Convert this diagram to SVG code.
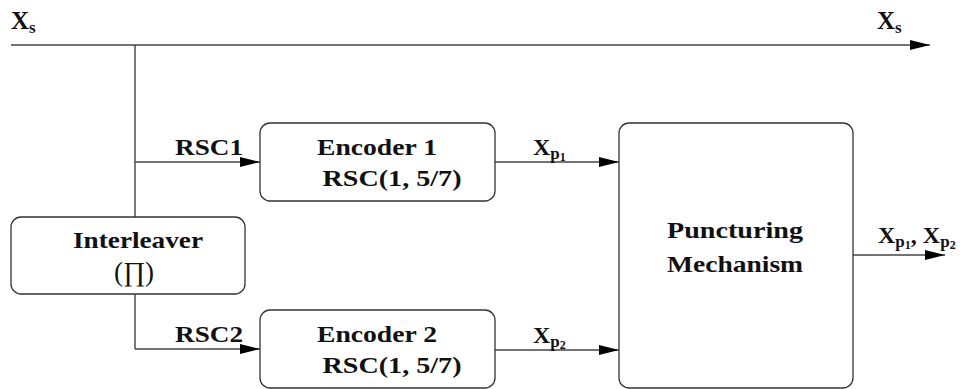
<svg xmlns="http://www.w3.org/2000/svg" width="971" height="389" viewBox="0 0 971 389">
<defs>
<marker id="ah" viewBox="0 0 20 10" refX="20" refY="5" markerWidth="20" markerHeight="10" markerUnits="userSpaceOnUse" orient="auto">
<path d="M0,0 L20,5 L0,10 Z" fill="#000"/>
</marker>
</defs>
<style>
.box{fill:#fff;stroke:#333;stroke-width:1.3}
.ln{fill:none;stroke:#333;stroke-width:1.3}
.arr{fill:none;stroke:#444;stroke-width:1.3;marker-end:url(#ah)}
text{font-family:"Liberation Serif","DejaVu Serif",serif;font-weight:bold;font-size:24px;fill:#111}
.big{font-size:25px}
.sub{font-size:17px}
.sub2{font-size:12px}
.c{text-anchor:middle}
</style>
<g id="connectors">
<path class="arr" d="M11,45 H930"/>
<path class="ln" d="M135,45 V217"/>
<path class="ln" d="M135,294 V349"/>
<path class="arr" d="M135,162 H260"/>
<path class="arr" d="M135,349 H260"/>
<path class="arr" d="M495,162 H619"/>
<path class="arr" d="M495,350 H619"/>
<path class="arr" d="M853,255 H945"/>
</g>
<g id="labels">
<text x="11" y="29" class="big">X<tspan class="sub" dy="4">s</tspan></text>
<text x="877" y="29" class="big">X<tspan class="sub" dy="4">s</tspan></text>
<text x="175" y="155" textLength="68" lengthAdjust="spacingAndGlyphs">RSC1</text>
<text x="175" y="342" textLength="68" lengthAdjust="spacingAndGlyphs">RSC2</text>
<text x="533" y="155">X<tspan class="sub" dy="4">p</tspan><tspan class="sub2" dy="2">1</tspan></text>
<text x="533" y="343">X<tspan class="sub" dy="4">p</tspan><tspan class="sub2" dy="2">2</tspan></text>
<text x="878" y="243">X<tspan class="sub" dy="4">p</tspan><tspan class="sub2" dy="2">1</tspan><tspan dy="-6">, X</tspan><tspan class="sub" dy="4">p</tspan><tspan class="sub2" dy="2">2</tspan></text>
</g>
<g id="interleaver">
<rect class="box" x="11" y="217" width="234" height="77" rx="10"/>
<text x="138" y="248" class="c" textLength="130" lengthAdjust="spacingAndGlyphs">Interleaver</text>
<text x="134" y="281" class="c" style="font-weight:normal;font-size:27px">(∏)</text>
</g>
<g id="encoder1">
<rect class="box" x="260" y="123" width="235" height="78" rx="10"/>
<text x="377" y="155" class="c" textLength="120" lengthAdjust="spacingAndGlyphs">Encoder 1</text>
<text x="392" y="186" class="c" textLength="139" lengthAdjust="spacingAndGlyphs">RSC(1, 5/7)</text>
</g>
<g id="encoder2">
<rect class="box" x="260" y="310" width="235" height="78" rx="10"/>
<text x="377" y="342" class="c" textLength="120" lengthAdjust="spacingAndGlyphs">Encoder 2</text>
<text x="392" y="373" class="c" textLength="139" lengthAdjust="spacingAndGlyphs">RSC(1, 5/7)</text>
</g>
<g id="puncturing">
<rect class="box" x="619" y="123" width="234" height="265" rx="10"/>
<text x="735" y="238" class="c" textLength="136" lengthAdjust="spacingAndGlyphs">Puncturing</text>
<text x="735" y="272" class="c" textLength="136" lengthAdjust="spacingAndGlyphs">Mechanism</text>
</g>
</svg>
